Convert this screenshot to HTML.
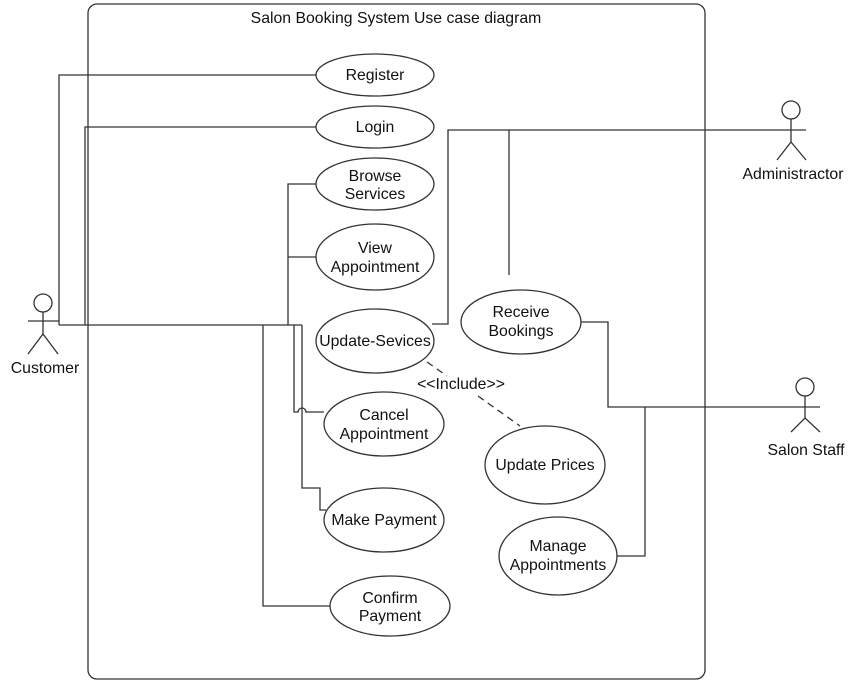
<!DOCTYPE html>
<html><head><style>
html,body{margin:0;padding:0;background:#fff;}
svg{display:block;}
text{font-family:"Liberation Sans",Arial,sans-serif;font-size:15.8px;fill:#111;}
</style></head><body>
<svg width="854" height="685" viewBox="0 0 854 685" xmlns="http://www.w3.org/2000/svg">
<g fill="none" stroke="#333" stroke-width="1.3">
<rect x="88" y="4" width="617" height="675" rx="9"/>
<polyline points="59,325 59,75 316,75"/>
<polyline points="85,325 85,127 316,127"/>
<line x1="59" y1="325" x2="302" y2="325"/>
<polyline points="316,184 288,184 288,325"/>
<line x1="288" y1="257" x2="316" y2="257"/>
<polyline points="263,325 263,606 330,606"/>
<path d="M294,325 L294,412 L298,412 A4,4 0 0 1 306,412 L324,412"/>
<polyline points="302,325 302,488 320,488 320,510 326,510"/>
<polyline points="432,324 448,324 448,130 775,130"/>
<line x1="509" y1="130" x2="509" y2="275"/>
<polyline points="580,322 608,322 608,407 790,407"/>
<polyline points="617,556 645,556 645,407"/>
<line x1="427" y1="362" x2="447" y2="376" stroke-dasharray="7,5"/>
<line x1="478" y1="396" x2="520" y2="426" stroke-dasharray="7,5"/>
<g fill="#fff">
<ellipse cx="375" cy="75" rx="59" ry="21"/>
<ellipse cx="375" cy="127" rx="59" ry="21"/>
<ellipse cx="375" cy="184" rx="59" ry="26"/>
<ellipse cx="375" cy="257" rx="59" ry="33"/>
<ellipse cx="375" cy="341" rx="59" ry="32"/>
<ellipse cx="521" cy="322" rx="60" ry="32"/>
<ellipse cx="384" cy="424" rx="60" ry="32"/>
<ellipse cx="545" cy="465" rx="60" ry="39"/>
<ellipse cx="384" cy="520" rx="60" ry="32"/>
<ellipse cx="558" cy="556" rx="59" ry="39"/>
<ellipse cx="390" cy="606" rx="60" ry="30"/>
</g>
<circle cx="43" cy="303" r="9"/>
<line x1="28" y1="321" x2="59" y2="321"/><line x1="43" y1="312" x2="43" y2="334"/>
<polyline points="28,354 43,334 58,354"/>
<circle cx="791" cy="110" r="9"/>
<line x1="775" y1="130" x2="806" y2="130"/><line x1="791" y1="119" x2="791" y2="142"/>
<polyline points="777,160 791,142 806,160"/>
<circle cx="805" cy="387" r="9"/>
<line x1="790" y1="407" x2="820" y2="407"/><line x1="805" y1="396" x2="805" y2="418"/>
<polyline points="791,432 805,418 820,432"/>
</g>
<g text-anchor="middle">
<text x="396" y="23">Salon  Booking System Use case diagram</text>
<text x="375" y="80">Register</text>
<text x="375" y="132">Login</text>
<text x="375" y="181">Browse</text><text x="375" y="199">Services</text>
<text x="375" y="253">View</text><text x="375" y="272">Appointment</text>
<text x="375" y="346">Update-Sevices</text>
<text x="521" y="317">Receive</text><text x="521" y="336">Bookings</text>
<text x="384" y="420">Cancel</text><text x="384" y="439">Appointment</text>
<text x="545" y="470">Update Prices</text>
<text x="384" y="525">Make Payment</text>
<text x="558" y="551">Manage</text><text x="558" y="570">Appointments</text>
<text x="390" y="603">Confirm</text><text x="390" y="621">Payment</text>
<text x="461" y="389">&lt;&lt;Include&gt;&gt;</text>
<text x="45" y="373">Customer</text>
<text x="793" y="179">Administractor</text>
<text x="806" y="455">Salon Staff</text>
</g>
</svg>
</body></html>
